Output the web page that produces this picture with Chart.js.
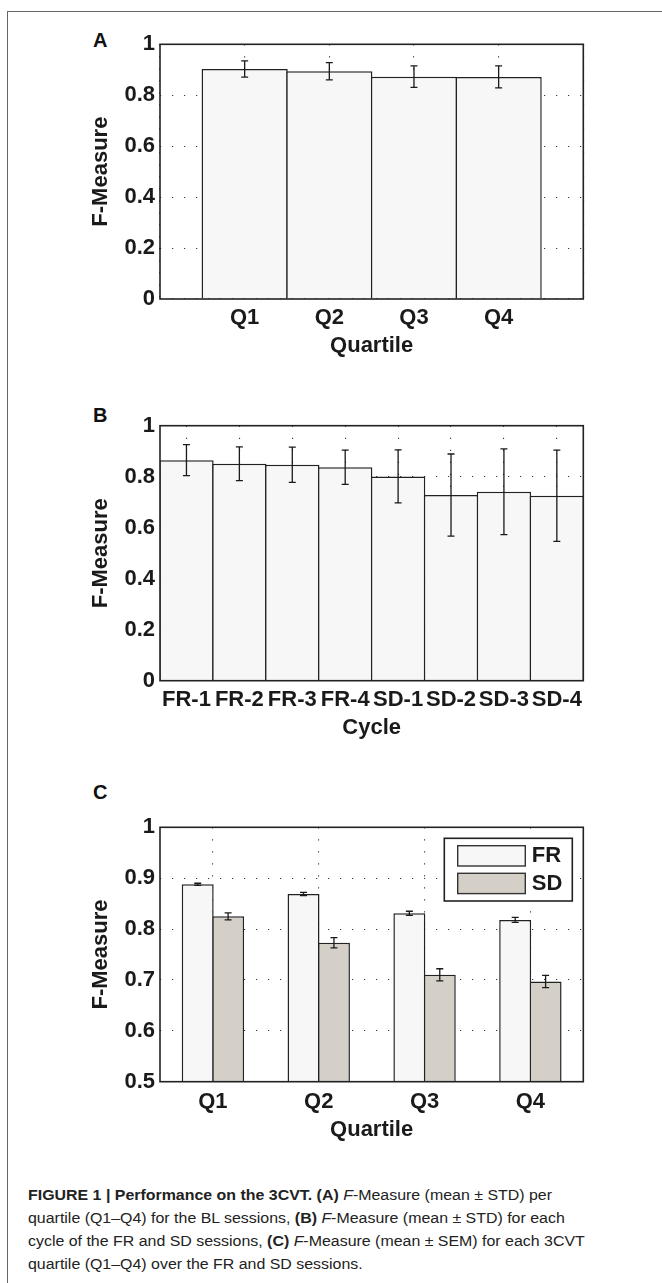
<!DOCTYPE html>
<html><head><meta charset="utf-8">
<script src="https://cdn.jsdelivr.net/npm/chart.js@4"></script>
<style>
html,body{margin:0;padding:0;background:#fff}
body{width:662px;height:1283px;overflow:hidden;position:relative;font-family:"Liberation Sans",Arial,sans-serif}
#frame{position:absolute;left:7px;top:11px;width:700px;height:1300px;border-top:1.5px solid #666;border-left:1.5px solid #666}
canvas{position:absolute;left:0}
.letter{position:absolute;left:93px;font:bold 20px/20px "Liberation Sans",Arial,sans-serif;color:#111}
.cap{position:absolute;left:28px;font-family:"Liberation Sans Narrow","Liberation Sans",sans-serif;font-size:15.5px;line-height:23px;color:#222;white-space:nowrap;transform-origin:0 50%}
.cap b{font-weight:bold}
</style></head><body>
<div id="frame"></div>
<div class="letter" style="top:30px">A</div>
<div class="letter" style="top:405px">B</div>
<div class="letter" style="top:782px">C</div>
<canvas id="cA" width="600" height="370" style="top:0px;width:600px;height:370px"></canvas>
<canvas id="cB" width="600" height="370" style="top:380px;width:600px;height:370px"></canvas>
<canvas id="cC" width="600" height="390" style="top:760px;width:600px;height:390px"></canvas>
<div class="cap" style="top:1183px"><b>FIGURE 1 | Performance on the 3CVT. (A)</b> <i>F</i>-Measure (mean ± STD) per</div>
<div class="cap" style="top:1206px">quartile (Q1–Q4) for the BL sessions, <b>(B)</b> <i>F</i>-Measure (mean ± STD) for each</div>
<div class="cap" style="top:1229px">cycle of the FR and SD sessions, <b>(C)</b> <i>F</i>-Measure (mean ± SEM) for each 3CVT</div>
<div class="cap" style="top:1252px">quartile (Q1–Q4) over the FR and SD sessions.</div>
<script>
// ---- data ----
const quartiles = ['Q1', 'Q2', 'Q3', 'Q4'];
const blMean = [0.903, 0.894, 0.873, 0.872];
const blStd  = [0.032, 0.034, 0.042, 0.043];

const cycles  = ['FR-1', 'FR-2', 'FR-3', 'FR-4', 'SD-1', 'SD-2', 'SD-3', 'SD-4'];
const cycMean = [0.865, 0.851, 0.847, 0.837, 0.801, 0.728, 0.741, 0.725];
const cycStd  = [0.061, 0.066, 0.069, 0.067, 0.104, 0.161, 0.168, 0.179];

const seriesNames = ['FR', 'SD'];
const frMean = [0.888, 0.869, 0.831, 0.818];
const frSem  = [0.002, 0.003, 0.004, 0.005];
const sdMean = [0.825, 0.773, 0.710, 0.697];
const sdSem  = [0.007, 0.010, 0.012, 0.012];

const yTicksAB = [0, 0.2, 0.4, 0.6, 0.8, 1];
const yTicksC  = [0.5, 0.6, 0.7, 0.8, 0.9, 1];

// caption fit
(function(){
  const caps = document.querySelectorAll('.cap');
  const w1 = caps[0].getBoundingClientRect().width;
  const s = 524 / w1;
  caps.forEach(c => c.style.transform = 'scaleX(' + s + ')');
})();

// ---- styling ----
const FAM = "'Liberation Sans', Arial, sans-serif";
const FONT = {family: FAM, size: 22, weight: 'bold', lineHeight: 1.2};
const INK = '#1a1a1a';
const LIGHT = '#f7f7f7';
const GREY = '#d4d0c8';

const boxPlugin = {
  id: 'box',
  afterDatasetsDraw(chart) {
    const ctx = chart.ctx;
    // error bars
    chart.data.datasets.forEach((ds, di) => {
      if (!ds.errors) return;
      const meta = chart.getDatasetMeta(di);
      const ys = chart.scales.y;
      meta.data.forEach((el, i) => {
        const v = ds.values[i], e = ds.errors[i];
        const t = ys.getPixelForValue(v + e), b = ys.getPixelForValue(v - e);
        const x = el.x, c = 3.5;
        ctx.save();
        ctx.strokeStyle = INK; ctx.lineWidth = 1.3;
        ctx.beginPath();
        ctx.moveTo(x, t); ctx.lineTo(x, b);
        ctx.moveTo(x - c, t); ctx.lineTo(x + c, t);
        ctx.moveTo(x - c, b); ctx.lineTo(x + c, b);
        ctx.stroke();
        ctx.restore();
      });
    });
    const a = chart.chartArea;
    ctx.save();
    ctx.strokeStyle = '#222'; ctx.lineWidth = 1.6;
    ctx.strokeRect(a.left, a.top, a.right - a.left, a.bottom - a.top);
    // legend (only when requested)
    const lg = chart.options.plugins.box && chart.options.plugins.box.legend;
    if (lg) {
      const bw = 128, bh = 62.7;
      const bx = a.right - 11 - bw, by = a.top + 11;
      ctx.fillStyle = '#fff';
      ctx.fillRect(bx, by, bw, bh);
      ctx.lineWidth = 1.6; ctx.strokeStyle = '#222';
      ctx.strokeRect(bx, by, bw, bh);
      chart.data.datasets.forEach((ds, i) => {
        const sy = by + 7.4 + i * 27.6;
        ctx.fillStyle = ds.backgroundColor;
        ctx.fillRect(bx + 13.4, sy, 67.6, 20.3);
        ctx.lineWidth = 1.4; ctx.strokeStyle = '#333';
        ctx.strokeRect(bx + 13.4, sy, 67.6, 20.3);
        ctx.fillStyle = INK;
        ctx.font = 'bold 22px ' + FAM;
        ctx.textAlign = 'left'; ctx.textBaseline = 'middle';
        ctx.fillText(ds.label, bx + 87.5, sy + 10.5);
      });
    }
    ctx.restore();
  }
};

function yAxis(min, max, ticks) {
  return {
    min: min, max: max,
    afterBuildTicks: s => { s.ticks = ticks.map(v => ({value: v})); },
    afterFit: s => { s.width = 80; },
    ticks: {font: FONT, color: INK, padding: 5, callback: v => String(v)},
    grid: {drawTicks: false, color: '#3a3a3a', lineWidth: 1.1},
    border: {display: false, dash: [1.2, 10.8]},
    title: {display: true, text: 'F-Measure', font: FONT, color: INK, padding: {top: 8, bottom: 0}}
  };
}
function xCommon(h, pad, pb, title) {
  return {
    afterFit: s => { s.height = h; },
    ticks: {font: FONT, color: INK, padding: pad, autoSkip: false, maxRotation: 0},
    grid: {drawTicks: false, offset: false, color: '#3a3a3a', lineWidth: 1.1},
    border: {display: false, dash: [1.2, 10.8]},
    title: {display: true, text: title, font: FONT, color: INK, padding: {top: 0, bottom: pb}}
  };
}
function baseOpts(padTop, scales, extra) {
  return {
    responsive: false, animation: false,
    layout: {padding: {left: 80, top: padTop, right: 16.7, bottom: 0}},
    plugins: Object.assign({legend: {display: false}, tooltip: {enabled: false}}, extra || {}),
    scales: scales
  };
}

// ---- A ----
const xA = xCommon(71, 6, 10.8, 'Quartile');
Object.assign(xA, {type: 'linear', offset: false, min: 0, max: quartiles.length + 1,
  afterBuildTicks: s => { s.ticks = Array.from({length: quartiles.length + 2}, (_, i) => ({value: i})); }});
xA.ticks.callback = v => quartiles[v - 1] || '';
new Chart(document.getElementById('cA'), {
  type: 'bar',
  data: {datasets: [{
    data: quartiles.map((q, i) => ({x: i + 1, y: blMean[i]})),
    values: blMean, errors: blStd,
    backgroundColor: LIGHT, borderColor: '#222', borderWidth: 1.5, borderSkipped: 'bottom',
    barPercentage: 1.018, categoryPercentage: 1
  }]},
  options: baseOpts(44.3, {x: xA, y: yAxis(0, 1, yTicksAB)}),
  plugins: [boxPlugin]
});

// ---- B ----
const xB = xCommon(69.3, 6, 8.8, 'Cycle');
xB.type = 'category';
new Chart(document.getElementById('cB'), {
  type: 'bar',
  data: {labels: cycles, datasets: [{
    data: cycMean, values: cycMean, errors: cycStd,
    backgroundColor: LIGHT, borderColor: '#222', borderWidth: 1.5, borderSkipped: 'bottom',
    barPercentage: 1.028, categoryPercentage: 1
  }]},
  options: baseOpts(45.7, {x: xB, y: yAxis(0, 1, yTicksAB)}),
  plugins: [boxPlugin]
});

// ---- C ----
const xC = xCommon(68.3, 7, 7.3, 'Quartile');
xC.type = 'category';
new Chart(document.getElementById('cC'), {
  type: 'bar',
  data: {labels: quartiles, datasets: [
    {label: seriesNames[0], data: frMean, values: frMean, errors: frSem,
     backgroundColor: LIGHT, borderColor: '#222', borderWidth: 1.5, borderSkipped: 'bottom',
     barPercentage: 1.05, categoryPercentage: 0.575},
    {label: seriesNames[1], data: sdMean, values: sdMean, errors: sdSem,
     backgroundColor: GREY, borderColor: '#222', borderWidth: 1.5, borderSkipped: 'bottom',
     barPercentage: 1.05, categoryPercentage: 0.575}
  ]},
  options: baseOpts(67.3, {x: xC, y: yAxis(0.5, 1, yTicksC)}, {box: {legend: true}}),
  plugins: [boxPlugin]
});
</script>
</body></html>
